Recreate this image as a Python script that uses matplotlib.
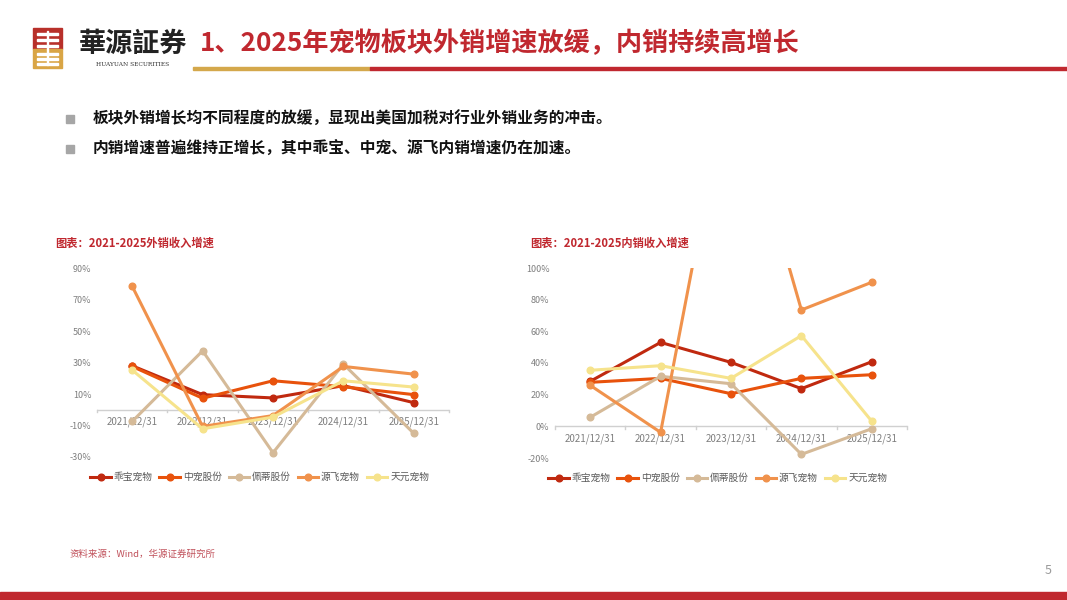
import numpy as np
import matplotlib
matplotlib.use('Agg')
import matplotlib.pyplot as plt
from matplotlib.patches import Rectangle
from matplotlib.lines import Line2D

plt.rcParams['font.family'] = ['Noto Sans CJK SC', 'DejaVu Sans']

# data (growth, %)
years = ['2021/12/31', '2022/12/31', '2023/12/31', '2024/12/31', '2025/12/31']
companies = ['乖宝宠物', '中宠股份', '佩蒂股份', '源飞宠物', '天元宠物']
colors = ['#C0290F', '#E8520C', '#D5BA98', '#F0924C', '#F6E38C']

export_growth = {
    '乖宝宠物': [27.9, 9.6, 7.5, 15.3, 4.5],
    '中宠股份': [27.5, 7.3, 18.4, 14.6, 9.6],
    '佩蒂股份': [-7.4, 37.4, -27.3, 29.0, -15.0],
    '源飞宠物': [78.4, -10.6, -3.7, 27.5, 22.6],
    '天元宠物': [25.2, -12.1, -4.7, 18.4, 14.4],
}
domestic_growth = {
    '乖宝宠物': [28.4, 53.0, 40.4, 23.8, 40.8],
    '中宠股份': [27.8, 30.3, 20.6, 30.3, 32.6],
    '佩蒂股份': [5.7, 31.6, 26.9, -17.7, -1.5],
    '源飞宠物': [25.9, -3.8, 228.0, 73.5, 91.0],
    '天元宠物': [35.4, 38.3, 30.3, 57.3, 3.2],
}

left_ticks = [-30, -10, 10, 30, 50, 70, 90]
right_ticks = [-20, 0, 20, 40, 60, 80, 100]

W, H = 1067, 600
fig = plt.figure(figsize=(W / 100, H / 100), dpi=100)

# page background layer in pixel coords
bg = fig.add_axes([0, 0, 1, 1], zorder=0)
bg.set_xlim(0, W)
bg.set_ylim(H, 0)
bg.axis('off')

red = '#C0282F'
gold = '#D4A84B'

# logo
bg.add_patch(Rectangle((33, 28), 29, 21, color='#B8302A'))
bg.add_patch(Rectangle((33, 49), 29, 19, color='#D9A545'))
for yy in [33, 39, 45]:
    bg.add_patch(Rectangle((37, yy), 21, 1.6, color='white'))
for yy in [53, 58, 63]:
    bg.add_patch(Rectangle((37, yy), 21, 1.6, color='white'))
bg.add_patch(Rectangle((46.7, 31), 1.6, 34, color='white'))
bg.text(79, 44, '華源証券', fontsize=19.5, fontweight='bold', color='#222222',
        va='center', ha='left')
bg.text(133, 64.5, 'HUAYUAN SECURITIES', fontsize=4.2, color='#333333',
        va='center', ha='center', family=['DejaVu Serif'])

# title
bg.text(200, 44, '1、2025年宠物板块外销增速放缓，内销持续高增长', fontsize=18.8,
        fontweight='bold', color=red, va='center', ha='left')
bg.add_patch(Rectangle((193, 67), 177, 2.5, color=gold))
bg.add_patch(Rectangle((370, 67), 697, 2.5, color=red))

# bullets
bullets = ['板块外销增长均不同程度的放缓，显现出美国加税对行业外销业务的冲击。',
           '内销增速普遍维持正增长，其中乖宝、中宠、源飞内销增速仍在加速。']
for i, t in enumerate(bullets):
    yy = 119 + 30 * i
    bg.add_patch(Rectangle((66, yy - 4), 8, 8, color='#A6A6A6'))
    bg.text(93, yy, t, fontsize=11.3, fontweight='bold', color='#111111',
            va='center', ha='left')

# chart titles
bg.text(55, 243, '图表：2021-2025外销收入增速', fontsize=8.1, fontweight='bold',
        color='#C0282F', va='center', ha='left')
bg.text(530, 243, '图表：2021-2025内销收入增速', fontsize=8.1, fontweight='bold',
        color='#C0282F', va='center', ha='left')

# source, page number, bottom bar
bg.text(70, 554, '资料来源：Wind，华源证券研究所', fontsize=6.8, color='#C0505A',
        va='center', ha='left')
bg.text(1048, 571, '5', fontsize=9, color='#9A9A9A', va='center', ha='center')
bg.add_patch(Rectangle((0, 592), W, 8, color='#C0282F'))


def draw_chart(rect, data, ticks, ylim):
    ax = fig.add_axes(rect, zorder=2)
    ax.patch.set_alpha(0)
    x = np.arange(len(years))
    for name, c in zip(companies, colors):
        ax.plot(x, data[name], color=c, lw=2.2, marker='o', markersize=4.8,
                solid_joinstyle='round', clip_on=True)
    ax.set_xlim(-0.5, len(years) - 0.5)
    ax.set_ylim(*ylim)
    ax.set_yticks(ticks)
    ax.set_yticklabels([f'{t}%' for t in ticks])
    ax.tick_params(axis='y', length=0, labelsize=6.5, labelcolor='#7F7F7F', pad=4)
    for s in ax.spines.values():
        s.set_visible(False)
    ax.axhline(0, color='#D0D0D0', lw=1, zorder=1)
    ax.set_xticks([])
    # boundary tick marks on the zero line
    for b in np.arange(-0.5, len(years), 1.0):
        ax.plot([b, b], [0, -(ylim[1] - ylim[0]) * 0.012], color='#D0D0D0',
                lw=1, zorder=1, clip_on=False)
    # category labels just below the zero line (drawn under the lines)
    off = (ylim[1] - ylim[0]) * 0.065
    for i, yr in enumerate(years):
        ax.text(i, -off, yr, fontsize=7, color='#7F7F7F', ha='center',
                va='center', zorder=0.5)
    handles = [Line2D([], [], color=c, lw=2.2, marker='o', markersize=4.8)
               for c in colors]
    ax.legend(handles, companies, loc='upper left', ncol=5, frameon=False,
              bbox_to_anchor=(-0.03, -0.06), fontsize=7, labelcolor='#595959',
              handlelength=2.1, handletextpad=0.3, columnspacing=0.7,
              borderaxespad=0)
    return ax


draw_chart([97 / W, 1 - 457 / H, 352 / W, 189 / H], export_growth,
           left_ticks, (-30, 90))
draw_chart([555 / W, 1 - 458 / H, 352 / W, 190 / H], domestic_growth,
           right_ticks, (-20, 100))

fig.savefig('out.png', dpi=100)
